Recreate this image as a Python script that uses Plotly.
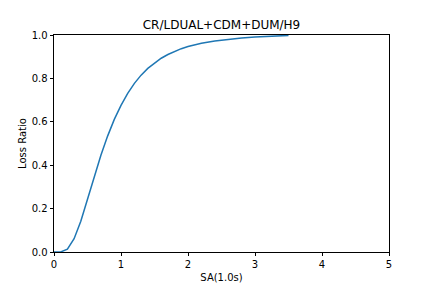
import plotly.graph_objects as go

sa = [0.0, 0.1, 0.2, 0.3, 0.4, 0.5, 0.6, 0.7, 0.8, 0.9, 1.0, 1.1, 1.2, 1.3, 1.4,
      1.5, 1.6, 1.7, 1.8, 1.9, 2.0, 2.2, 2.4, 2.6, 2.8, 3.0, 3.2, 3.4, 3.5]
loss_ratio = [0.0, 0.0004, 0.013, 0.061, 0.142, 0.243, 0.347, 0.446, 0.534, 0.611,
              0.676, 0.731, 0.777, 0.815, 0.846, 0.871, 0.893, 0.910, 0.925, 0.937,
              0.947, 0.962, 0.972, 0.980, 0.986, 0.991, 0.994, 0.997, 0.998]

title = "CR/LDUAL+CDM+DUM/H9"
x_label = "SA(1.0s)"
y_label = "Loss Ratio"
x_ticks = [0, 1, 2, 3, 4, 5]
y_ticks = [0.0, 0.2, 0.4, 0.6, 0.8, 1.0]
y_tick_text = ["0.0", "0.2", "0.4", "0.6", "0.8", "1.0"]

fig = go.Figure()
fig.add_trace(go.Scatter(x=sa, y=loss_ratio, mode="lines",
                         line=dict(color="#1f77b4", width=1.5),
                         showlegend=False, hoverinfo="skip"))

axis_common = dict(showline=True, linecolor="black", linewidth=0.8, mirror=True,
                   ticks="outside", ticklen=3.5, tickwidth=0.8, tickcolor="black",
                   showgrid=False, zeroline=False, automargin=False,
                   tickfont=dict(family="DejaVu Sans", size=10, color="black"))

fig.update_layout(
    width=432, height=288,
    margin=dict(l=54, r=43, t=35, b=36, pad=0, autoexpand=False),
    paper_bgcolor="white", plot_bgcolor="white",
    font=dict(family="DejaVu Sans", size=10, color="black"),
    title=dict(text=title, x=0.5, xref="paper", xanchor="center",
               y=(288 - 25) / 288, yref="container", yanchor="middle",
               font=dict(family="DejaVu Sans", size=12, color="black")),
    xaxis=dict(range=[0, 5], tickvals=x_ticks, ticktext=[str(t) for t in x_ticks],
               title=dict(text=x_label, standoff=4,
                          font=dict(family="DejaVu Sans", size=10, color="black")),
               **axis_common),
    yaxis=dict(range=[0, 1], tickvals=y_ticks, ticktext=y_tick_text,
               title=dict(text=y_label, standoff=3,
                          font=dict(family="DejaVu Sans", size=10, color="black")),
               **axis_common),
)

fig.write_html("out.html")
